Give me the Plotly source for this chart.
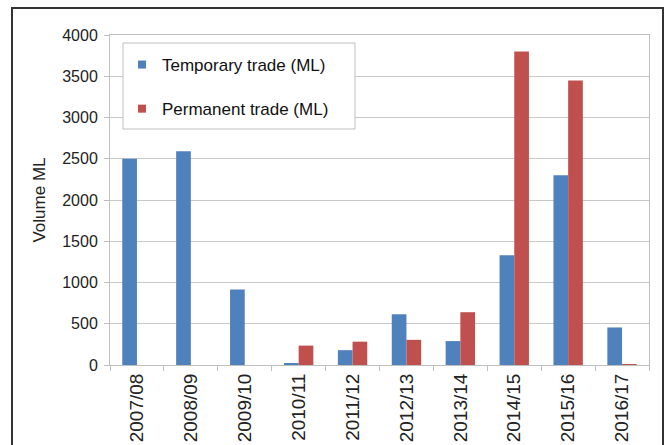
import plotly.graph_objects as go

categories = ["2007/08", "2008/09", "2009/10", "2010/11", "2011/12",
              "2012/13", "2013/14", "2014/15", "2015/16", "2016/17"]
temporary = [2500, 2590, 915, 15, 180, 615, 290, 1330, 2300, 455]
permanent = [0, 0, 0, 235, 283, 305, 640, 3800, 3450, 12]
series_names = ["Temporary trade (ML)", "Permanent trade (ML)"]
series_colors = ["#4F81BD", "#C0504D"]
y_ticks = [0, 500, 1000, 1500, 2000, 2500, 3000, 3500, 4000]

L, R, T, B = 110, 17, 35, 80
W, H = 666, 445
pw, ph = W - L - R, H - T - B
FAM = "Arial, Liberation Sans, sans-serif"

def px_x(p):
    return (p - L) / pw

def px_y(p):
    return 1 - (p - T) / ph

fig = go.Figure()
for vals, name, col, grp in zip([temporary, permanent], series_names, series_colors, ["a", "b"]):
    fig.add_trace(go.Bar(x=categories, y=vals, name=name,
                         marker=dict(color=col, line=dict(width=0)),
                         legendgroup=grp, showlegend=False))
    # small square legend key like the original
    fig.add_trace(go.Scatter(x=[None], y=[None], mode="markers", name=name,
                             marker=dict(symbol="square", size=8, color=col),
                             legendgroup=grp, showlegend=True))

fig.update_layout(
    width=W, height=H,
    margin=dict(l=L, r=R, t=T, b=B, autoexpand=False),
    paper_bgcolor="white", plot_bgcolor="white",
    barmode="group", bargap=0.455, bargroupgap=0,
    font=dict(family=FAM, size=15, color="#222222"),
    showlegend=True,
    legend=dict(x=px_x(122), y=px_y(47), xanchor="left", yanchor="top",
                bgcolor="rgba(0,0,0,0)", borderwidth=0,
                font=dict(family=FAM, size=17, color="#111111"),
                traceorder="grouped", tracegroupgap=19, itemwidth=30),
    xaxis=dict(tickangle=-90, showline=True, linecolor="#BFBFBF", linewidth=1,
               mirror=True, ticks="outside", ticklen=5, tickcolor="#BFBFBF",
               tickson="boundaries", showgrid=False,
               tickfont=dict(family=FAM, size=19, color="#222222")),
    yaxis=dict(range=[0, 4000], tickvals=y_ticks, showline=True, linecolor="#BFBFBF",
               linewidth=1, mirror=True, ticks="outside", ticklen=5, tickcolor="#BFBFBF",
               ticklabelstandoff=3,
               showgrid=True, gridcolor="#C8C8C8", gridwidth=1, zeroline=False,
               title=dict(text="Volume ML", standoff=12,
                          font=dict(family=FAM, size=17, color="#222222")),
               tickfont=dict(family=FAM, size=16, color="#222222")),
)

# legend box
fig.add_shape(type="rect", xref="paper", yref="paper",
              x0=px_x(123), x1=px_x(355), y0=px_y(129), y1=px_y(43),
              line=dict(color="#BFBFBF", width=1), fillcolor="white", layer="above")

# outer frame
fig.add_shape(type="rect", xref="paper", yref="paper",
              x0=px_x(12), x1=px_x(663), y0=px_y(465), y1=px_y(8),
              line=dict(color="#333333", width=2), fillcolor="rgba(0,0,0,0)", layer="below")

fig.write_html("out.html", config={"displayModeBar": False},
               post_script="document.body.style.margin='0';")
